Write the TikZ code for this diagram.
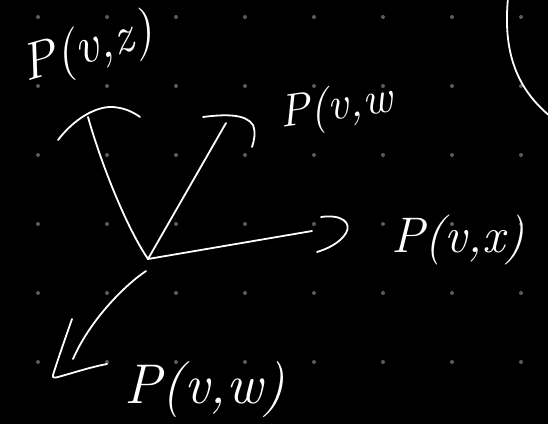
\documentclass[tikz,border=0pt]{standalone}
\usepackage{xcolor}
\usetikzlibrary{calc}
\definecolor{boardbg}{RGB}{0,0,0}
\definecolor{griddot}{RGB}{92,92,92}
\definecolor{chalk}{RGB}{255,255,255}
\tikzset{
  stroke/.style={
    draw=chalk,
    line width=1.8pt,
    line cap=round,
    line join=round
  },
  lbl/.style={
    text=chalk,
    inner sep=0pt,
    font=\fontsize{46}{46}\selectfont\itshape
  }
}
\begin{document}
\begin{tikzpicture}[x=1pt, y=-1pt]
\fill[boardbg] (0,0) rectangle (548,424);
\useasboundingbox (0,0) rectangle (548,424);
\clip (0,0) rectangle (548,424);

\foreach \i in {0,...,7}
  \foreach \j in {0,...,5}
    \fill[griddot] (38+69*\i, 17+69*\j) circle (2pt);

\coordinate (hub) at (148,259);
\coordinate (hubl) at (146,271);
\coordinate (tipz) at (88,117);
\coordinate (tipwup) at (226,123);
\coordinate (tipx) at (312,231);
\coordinate (tipwdown) at (73,359);

\node[lbl, rotate=16, font=\fontsize{52}{52}\selectfont\itshape] (pvz) at (88,50) {P(v,z)};
\node[lbl, rotate=8] (pvwup) at (336,108) {P(v,w};
\node[lbl, font=\fontsize{50}{50}\selectfont\itshape] (pvx) at (458,240) {P(v,x)};
\node[lbl, font=\fontsize{56}{56}\selectfont\itshape] (pvwdown) at (205,390) {P(v,w)};

\draw[stroke] (hub) .. controls (125,225) and (100,160) .. (tipz);
\draw[stroke, shift={(tipz)}] (-30,23) .. controls (-14,2) and (8,-11) .. (25,-10)
  .. controls (37,-9) and (45,-5) .. (52,0);

\draw[stroke] (hub) -- (tipwup);
\draw[stroke, shift={(tipwup)}] (-23,-6) .. controls (0,-9) and (20,-9) .. (27,2)
  .. controls (30,10) and (28,18) .. (26,24);

\draw[stroke] (hub) -- (tipx);
\draw[stroke, shift={(tipx)}] (9,-14) .. controls (30,-17) and (40,-8) .. (34,2)
  .. controls (28,12) and (15,18) .. (5,21);

\draw[stroke] (hubl) .. controls (125,285) and (90,320) .. (tipwdown);
\draw[stroke, shift={(tipwdown)}] (-1,-40) .. controls (-8,-20) and (-15,0) .. (-20,16)
  .. controls (-21,19) and (-18,19) .. (-15,18)
  .. controls (3,13) and (18,8) .. (34,5);

\draw[stroke] (508,-2) .. controls (503,50) and (515,90) .. (555,120);
\end{tikzpicture}
\end{document}
